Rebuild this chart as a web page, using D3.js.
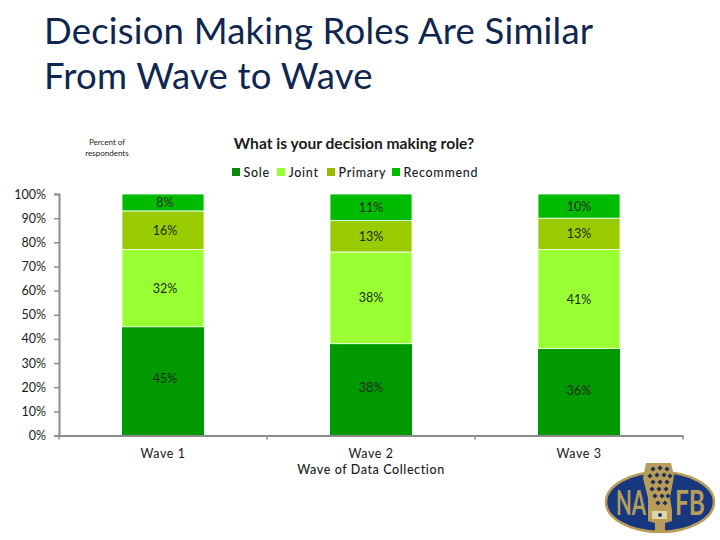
<!DOCTYPE html>
<html><head><meta charset="utf-8">
<script src="https://cdn.jsdelivr.net/npm/d3@7/dist/d3.min.js"></script>
<style>html,body{margin:0;background:#fff}svg{display:block}text{font-family:Lato,"Open Sans",sans-serif}</style>
</head><body><svg id="c" width="720" height="540"></svg>
<script>
const titleLines = ["Decision Making Roles Are Similar", "From Wave to Wave"];
const chartTitle = "What is your decision making role?";
const yNote = ["Percent of", "respondents"];
const categories = ["Wave 1", "Wave 2", "Wave 3"];
const seriesNames = ["Sole", "Joint", "Primary", "Recommend"];
const colors = ["#009900", "#99ff33", "#99cc00", "#00bb00"];
const legendColors = ["#0b8a0b", "#99ff33", "#99bb00", "#00bb00"];
const sole = [45, 38, 36];
const joint = [32, 38, 41];
const primary = [16, 13, 13];
const recommend = [8, 11, 10];
const xTitle = "Wave of Data Collection";
const yTicks = [0,10,20,30,40,50,60,70,80,90,100];
const seriesValues = [sole, joint, primary, recommend];

const svg = d3.select("#c");
const x = d3.scaleBand().domain(categories).range([59, 683]);
const barW = x.bandwidth() * 82 / 208;
const y = d3.scaleLinear().domain([0, 100]).range([435.5, 194]).clamp(true);

svg.selectAll("text.t").data(titleLines).join("text").attr("class","t")
  .attr("x",44).attr("y",(d,i)=>44+i*45).attr("font-size",36.5).attr("letter-spacing",0.2)
  .attr("fill","#0f2650").text(d=>d);

svg.append("text").attr("x",354).attr("y",149).attr("text-anchor","middle")
  .attr("font-size",15.6).attr("font-weight",700).attr("fill","#1a1a1a").text(chartTitle);
svg.selectAll("text.n").data(yNote).join("text").attr("class","n")
  .attr("x",107).attr("y",(d,i)=>145+i*10.5).attr("text-anchor","middle")
  .attr("font-size",8).attr("fill","#222").text(d=>d);

// legend
const legendPos = d3.scaleOrdinal().domain(seriesNames).range([232,277,327,392]);
const lg = svg.selectAll("g.l").data(seriesNames).join("g").attr("class","l")
  .attr("transform",d=>`translate(${legendPos(d)},168)`);
lg.append("rect").attr("width",8).attr("height",8).attr("fill",(d,i)=>legendColors[i]);
lg.append("text").attr("x",11.5).attr("y",9).attr("font-size",12.5).attr("letter-spacing",0.7)
  .attr("font-weight",500).attr("fill","#1a1a1a").text(d=>d);

// bars
categories.forEach((c,ci)=>{
  let acc = 0;
  seriesValues.forEach((vals,si)=>{
    const v = vals[ci], y0 = y(acc), y1 = y(acc+v);
    acc += v;
    const bx = x(c) + (x.bandwidth()-barW)/2;
    svg.append("rect").attr("x",bx).attr("y",y1).attr("width",barW).attr("height",y0-y1)
      .attr("fill",colors[si]).attr("stroke","#fff").attr("stroke-width",si?0.8:0);
    const nudge = (ci===0 && si===0) ? -3 : (si===0 ? -2 : 0);
    svg.append("text").attr("x",bx+barW/2+(ci?0:2)).attr("y",(y0+y1)/2+4.5+nudge)
      .attr("text-anchor","middle").attr("font-size",12.5).attr("fill","#1d2a10").text(v+"%");
  });
});

// axes
const axisColor = "#8c8c8c";
const ya = svg.append("g").attr("transform","translate(59,0)")
  .call(d3.axisLeft(y).tickValues(yTicks).tickSize(5).tickPadding(8).tickFormat(d=>d+"%"));
ya.select(".domain").attr("stroke",axisColor).attr("stroke-width",2);
ya.selectAll(".tick line").attr("stroke",axisColor).attr("stroke-width",1.5);
ya.selectAll(".tick text").attr("font-size",12.5).attr("font-family","Lato").attr("fill","#1a1a1a");

const xa = svg.append("g").attr("transform","translate(0,435.5)")
  .call(d3.axisBottom(x).tickSize(0).tickPadding(14));
xa.select(".domain").attr("stroke",axisColor).attr("stroke-width",2);
xa.selectAll(".tick text").attr("font-size",12.5).attr("font-family","Lato").attr("letter-spacing",0.6).attr("fill","#1a1a1a");
xa.selectAll("line.b").data(d3.range(4)).join("line").attr("class","b")
  .attr("x1",i=>59+i*x.bandwidth()).attr("x2",i=>59+i*x.bandwidth())
  .attr("y1",0).attr("y2",4).attr("stroke",axisColor).attr("stroke-width",1.5);
svg.append("text").attr("x",371).attr("y",474).attr("text-anchor","middle")
  .attr("font-size",12.5).attr("font-weight",500).attr("letter-spacing",0.6).attr("fill","#1a1a1a").text(xTitle);

// logo
const gold = "#b89c5a", navy = "#17387f";
const logo = svg.append("g");
logo.append("ellipse").attr("cx",660).attr("cy",502).attr("rx",54).attr("ry",30)
  .attr("fill",navy).attr("stroke",gold).attr("stroke-width",2.5);
[["NA",631],["FB",690]].forEach(([t,cx])=>{
  logo.append("text").attr("x",cx).attr("y",515).attr("text-anchor","middle")
    .attr("font-size",34).attr("font-weight",700).attr("textLength",30).attr("lengthAdjust","spacingAndGlyphs")
    .attr("fill",gold).text(t);
});
logo.append("path").attr("d","M646 463 L671 463 L674 476 L670 498 L672 510 L672 521 L665 523 L665 531 L655 531 L655 523 L648 521 L648 498 L643 478 Z").attr("fill",gold);
const dots = [[653,469],[660,468],[667,469],[650,476],[657,475],[664,475],[670,476],[653,482],[660,482],[667,482],[652,489],[659,489],[666,489],[655,496],[662,496],[668,496],[658,503],[665,503]];
logo.selectAll("rect.d").data(dots).join("rect").attr("class","d")
  .attr("x",d=>d[0]-1.8).attr("y",d=>d[1]-1.8).attr("width",3.6).attr("height",3.6)
  .attr("transform",d=>`rotate(45 ${d[0]} ${d[1]})`).attr("fill","#1c2c5a");
logo.append("rect").attr("x",652).attr("y",511).attr("width",15).attr("height",8).attr("fill","#e2d4a6");
logo.append("circle").attr("cx",660).attr("cy",515).attr("r",2).attr("fill",navy);
</script></body></html>
